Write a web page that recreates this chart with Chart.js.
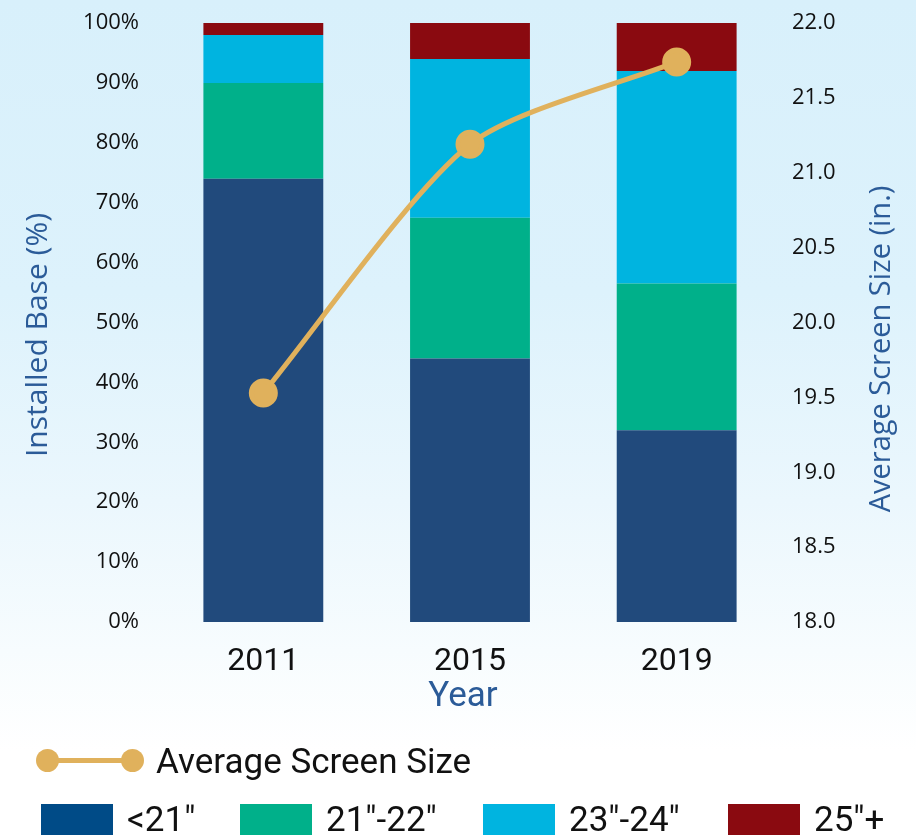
<!DOCTYPE html>
<html>
<head>
<meta charset="utf-8">
<script src="https://cdn.jsdelivr.net/npm/chart.js@4"></script>
<style>
  html, body { margin: 0; padding: 0; }
  body {
    width: 916px; height: 835px; overflow: hidden; position: relative;
    background: linear-gradient(to bottom, #d8f0fb 0%, #ddf2fc 35%, #ebf7fd 60%, #f7fcfe 78%, #ffffff 90%);
  }
  #wrap { position: absolute; left: 0; top: 0; width: 916px; height: 835px; }
  .legend-line { position: absolute; left: 36px; top: 743px; height: 36px; display: flex; align-items: center; }
  .legend-line .icon { position: relative; width: 108px; height: 24px; }
  .legend-line .bar { position: absolute; left: 11px; right: 11px; top: 9px; height: 5px; background: #e0b15c; }
  .legend-line .dot { position: absolute; top: 0; width: 23px; height: 23px; border-radius: 50%; background: #e0b15c; }
  .legend-line span, .legend-box span {
    font-family: "Liberation Sans Narrow", "Roboto", sans-serif; font-size: 35px; color: #111;
  }
  .legend-line span { margin-left: 12px; }
  .legend-box { position: absolute; top: 800px; display: flex; align-items: flex-start; }
  .legend-box i { display: inline-block; width: 72px; height: 36px; margin-top: 4px; }
  .legend-box span { margin-left: 14px; line-height: 40px; }
</style>
</head>
<body>
<div id="wrap"><canvas id="chart"></canvas></div>
<div class="legend-line">
  <div class="icon"><div class="bar"></div><div class="dot" style="left:0"></div><div class="dot" style="right:0"></div></div>
  <span>Average Screen Size</span>
</div>
<div id="legendBoxes"></div>
<script>
// ---- Daten ----
const years = ["2011", "2015", "2019"];
const sizeLabels = ["<21″", "21″-22″", "23″-24″", "25″+"];
const under21 = [74, 44, 32];
const from21to22 = [16, 23.5, 24.5];
const from23to24 = [8, 26.5, 35.5];
const over25 = [2, 6, 8];
const avgScreenSize = [19.53, 21.19, 21.74];

const barColors = ["#214a7c", "#00b08a", "#00b4e0", "#8a0a10"];
const legendColors = ["#004b87", "#00b08a", "#00b4e0", "#8a0a10"];
const legendLeft = [41, 240, 483, 728];

// ---- Legende (HTML) ----
const legendBoxes = document.getElementById("legendBoxes");
sizeLabels.forEach((label, i) => {
  const item = document.createElement("div");
  item.className = "legend-box";
  item.style.left = legendLeft[i] + "px";
  item.innerHTML = `<i style="background:${legendColors[i]}"></i><span>${label}</span>`;
  legendBoxes.appendChild(item);
});

// ---- Achsentitel als Plugin ----
const axisTitles = {
  id: "axisTitles",
  afterDraw(chart) {
    const ctx = chart.ctx;
    ctx.save();
    ctx.fillStyle = "#2b5b98";
    ctx.textAlign = "center";
    ctx.textBaseline = "middle";

    ctx.font = '30px "Open Sans", sans-serif';
    ctx.save();
    ctx.translate(38, 335);
    ctx.rotate(-Math.PI / 2);
    ctx.fillText("Installed Base (%)", 0, 0);
    ctx.restore();

    ctx.font = '29px "Open Sans", sans-serif';
    ctx.save();
    ctx.translate(882, 349);
    ctx.rotate(-Math.PI / 2);
    ctx.fillText("Average Screen Size (in.)", 0, 0);
    ctx.restore();

    ctx.font = '35px "Liberation Sans Narrow", "Roboto", sans-serif';
    ctx.fillText("Year", 463, 697);
    ctx.restore();
  },
};

// Achsenbreite fest, damit die Plotfläche genau sitzt
function fixWidth(w) {
  return function (scale) {
    scale.width = w;
    scale.paddingTop = 0;
    scale.paddingBottom = 0;
  };
}

const sizeSeries = [under21, from21to22, from23to24, over25];

new Chart(document.getElementById("chart"), {
  data: {
    labels: years,
    datasets: [
      {
        type: "line",
        label: "Average Screen Size",
        data: avgScreenSize,
        yAxisID: "y1",
        borderColor: "#e0b15c",
        backgroundColor: "#e0b15c",
        borderWidth: 5,
        pointRadius: 12,
        pointHoverRadius: 12,
        tension: 0.25,
        order: 0,
      },
      ...sizeSeries.map((values, i) => ({
        type: "bar",
        label: sizeLabels[i],
        data: values,
        backgroundColor: barColors[i],
        stack: "base",
        categoryPercentage: 1,
        barPercentage: 0.58,
        order: 1,
      })),
    ],
  },
  options: {
    responsive: true,
    maintainAspectRatio: false,
    animation: false,
    layout: { padding: { top: 23, bottom: 0, left: 0, right: 0 } },
    plugins: { legend: { display: false }, tooltip: { enabled: false } },
    scales: {
      x: {
        stacked: true,
        grid: { display: false },
        border: { display: false },
        ticks: {
          color: "#111",
          padding: 13,
          font: { family: '"Liberation Sans Narrow", "Roboto", sans-serif', size: 32 },
        },
        afterFit(scale) { scale.height = 213; },
      },
      y: {
        stacked: true,
        min: 0,
        max: 100,
        grid: { display: false },
        border: { display: false },
        ticks: {
          stepSize: 10,
          color: "#111",
          padding: 13,
          font: { family: '"Open Sans", sans-serif', size: 22 },
          callback: (v) => v + "%",
        },
        afterFit: fixWidth(160),
      },
      y1: {
        position: "right",
        min: 18,
        max: 22,
        grid: { display: false },
        border: { display: false },
        ticks: {
          stepSize: 0.5,
          color: "#111",
          padding: 4,
          font: { family: '"Open Sans", sans-serif', size: 22 },
          callback: (v) => v.toFixed(1),
        },
        afterFit: fixWidth(136),
      },
    },
  },
  plugins: [axisTitles],
});
</script>
</body>
</html>
